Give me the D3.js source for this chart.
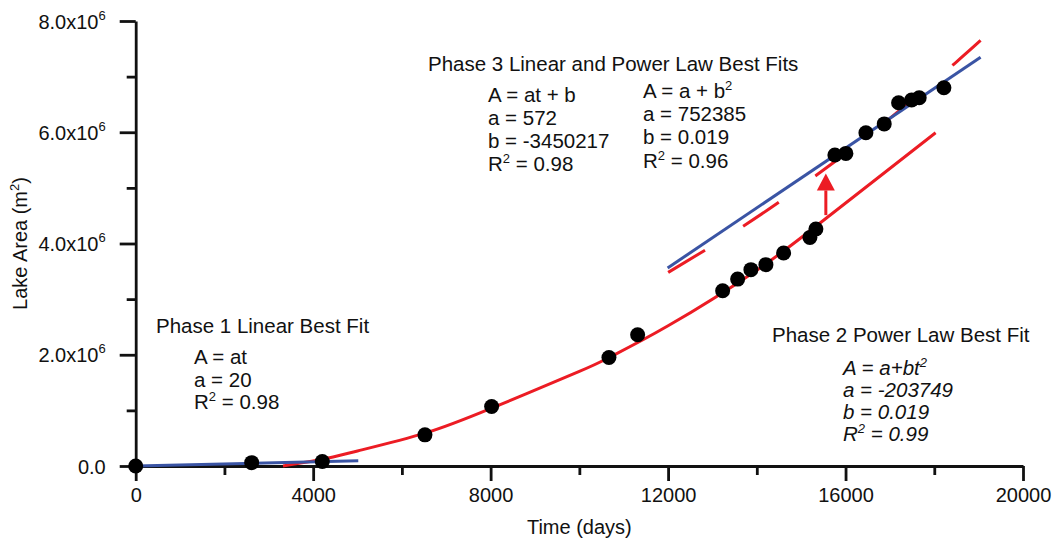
<!DOCTYPE html>
<html>
<head>
<meta charset="utf-8">
<script src="https://cdn.jsdelivr.net/npm/d3@7"></script>
<style>
  body { margin: 0; background: #fff; }
  text { font-family: "Liberation Sans", Arial, sans-serif; fill: #111; }
</style>
</head>
<body>
<svg></svg>
<script>
// observed lake area (days since start, m^2)
const obsDays = [0, 2614, 4206, 6520, 8023, 10667, 11314, 13230, 13568, 13867, 14205, 14604,
  15197, 15332, 15760, 16008, 16459, 16872, 17196, 17489, 17660, 18217];
const obsArea = [0, 0.06e6, 0.08e6, 0.56e6, 1.07e6, 1.95e6, 2.36e6, 3.15e6, 3.36e6, 3.53e6, 3.62e6, 3.83e6,
  4.11e6, 4.26e6, 5.59e6, 5.62e6, 5.99e6, 6.15e6, 6.53e6, 6.58e6, 6.62e6, 6.80e6];

// fit lines
const phase1Days = [0, 5017];
const phase1Area = [0, 0.095e6];
const phase2Days = [3320, 4206, 5000, 6520, 8023, 10000, 10667, 12000, 14000, 15556, 18030];
const phase2Area = [0, 0.12e6, 0.27e6, 0.59e6, 1.04e6, 1.70e6, 1.95e6, 2.52e6, 3.52e6, 4.45e6, 5.99e6];
const phase3LinDays = [11990, 19044];
const phase3LinArea = [3.56e6, 7.35e6];
const phase3PowDays = [12003, 13710, 15348, 17000, 18465, 19044];
const phase3PowArea = [3.48e6, 4.32e6, 5.23e6, 6.25e6, 7.24e6, 7.65e6];

// shift arrow
const arrowDay = 15556;
const arrowFrom = 4.51e6;
const arrowTo = 5.26e6;

const xTicks = [0, 4000, 8000, 12000, 16000, 20000];
const xMinor = [2000, 6000, 10000, 14000, 18000];
const yTicks = [0, 2e6, 4e6, 6e6, 8e6];
const yMinor = [1e6, 3e6, 5e6, 7e6];
const yTickLabels = ["0.0", "2.0x10", "4.0x10", "6.0x10", "8.0x10"];

const width = 1055, height = 544;
const red = "#ec1c24", blue = "#3a54a4";
const fs = 20.5;

const svg = d3.select("svg").attr("width", width).attr("height", height);

const x = d3.scaleLinear().domain([0, 20000]).range([135.7, 1023]);
const y = d3.scaleLinear().domain([0, 8e6]).range([466, 21]);

const zip = (a, b) => a.map((d, i) => [d, b[i]]);
const line = d3.line().x(d => x(d[0])).y(d => y(d[1]));
const smooth = d3.line().x(d => x(d[0])).y(d => y(d[1])).curve(d3.curveNatural);

// minor ticks first
svg.append("g")
  .attr("transform", `translate(0,${y(0)})`)
  .call(d3.axisBottom(x).tickValues(xMinor).tickSize(9).tickSizeOuter(0).tickFormat(""))
  .call(g => g.select(".domain").remove());
svg.append("g")
  .attr("transform", `translate(${x(0)},0)`)
  .call(d3.axisLeft(y).tickValues(yMinor).tickSize(9).tickSizeOuter(0).tickFormat(""))
  .call(g => g.select(".domain").remove());

const xAxis = svg.append("g")
  .attr("transform", `translate(0,${y(0)})`)
  .call(d3.axisBottom(x).tickValues(xTicks).tickSize(15).tickSizeOuter(0).tickPadding(7).tickFormat(d3.format("d")));
const yAxis = svg.append("g")
  .attr("transform", `translate(${x(0)},0)`)
  .call(d3.axisLeft(y).tickValues(yTicks).tickSize(16).tickSizeOuter(0).tickPadding(14).tickFormat(""));

svg.selectAll(".tick line, .domain").attr("stroke", "#111").attr("stroke-width", 2.8);
xAxis.selectAll("text").attr("font-size", 20);

yAxis.selectAll(".tick text").each(function(d, i) {
  const t = d3.select(this).attr("font-size", 20).attr("dy", "0.35em");
  t.append("tspan").text(yTickLabels[i]);
  if (d !== 0) t.append("tspan").attr("font-size", 13).attr("dy", -9).text("6");
});

svg.append("text")
  .attr("transform", `translate(27,${(y(0) + y(8e6)) / 2}) rotate(-90)`)
  .attr("text-anchor", "middle").attr("font-size", 20)
  .text("Lake Area (m")
  .call(t => t.append("tspan").attr("font-size", 13).attr("dy", -8).text("2"))
  .call(t => t.append("tspan").attr("dy", 8).text(")"));

svg.append("text")
  .attr("x", (x(0) + x(20000)) / 2).attr("y", 534)
  .attr("text-anchor", "middle").attr("font-size", 20)
  .text("Time (days)");

// fits
svg.append("path").datum(zip(phase3PowDays, phase3PowArea))
  .attr("d", smooth).attr("fill", "none").attr("stroke", red).attr("stroke-width", 3)
  .attr("stroke-dasharray", "43 45");
svg.append("path").datum(zip(phase3LinDays, phase3LinArea))
  .attr("d", line).attr("fill", "none").attr("stroke", blue).attr("stroke-width", 3);
svg.append("path").datum(zip(phase2Days, phase2Area))
  .attr("d", smooth).attr("fill", "none").attr("stroke", red).attr("stroke-width", 3);
svg.append("path").datum(zip(phase1Days, phase1Area))
  .attr("d", line).attr("fill", "none").attr("stroke", blue).attr("stroke-width", 3);

// arrow
const ax = x(arrowDay), headBase = y(arrowTo) + 17;
svg.append("line")
  .attr("x1", ax).attr("x2", ax).attr("y1", y(arrowFrom)).attr("y2", headBase)
  .attr("stroke", red).attr("stroke-width", 3);
svg.append("path")
  .attr("d", `M${ax - 9},${headBase}L${ax + 9},${headBase}L${ax},${y(arrowTo)}Z`)
  .attr("fill", red);

// points
svg.append("g").selectAll("circle")
  .data(zip(obsDays, obsArea))
  .join("circle")
  .attr("cx", d => x(d[0])).attr("cy", d => y(d[1]))
  .attr("r", 7.5).attr("fill", "#000");

// annotations
function block(x0, y0, step, lines, italic) {
  const g = svg.append("g");
  lines.forEach((l, i) => {
    const t = g.append("text").attr("x", x0).attr("y", y0 + i * step).attr("font-size", fs);
    if (italic) t.attr("font-style", "italic");
    t.append("tspan").text(l[0]);
    if (l[1]) {
      t.append("tspan").attr("font-size", 13).attr("dy", -8).text(l[1]);
      if (l[2]) t.append("tspan").attr("dy", 8).text(l[2]);
    }
  });
}

block(428, 70.7, 0, [["Phase 3 Linear and Power Law Best Fits"]]);
block(488, 101.7, 23, [["A = at + b"], ["a = 572"], ["b = -3450217"], ["R", "2", " = 0.98"]]);
block(643, 98, 23.2, [["A = a + b", "2"], ["a = 752385"], ["b = 0.019"], ["R", "2", " = 0.96"]]);
block(156, 332.7, 0, [["Phase 1 Linear Best Fit"]]);
block(194, 364, 22.7, [["A = at"], ["a = 20"], ["R", "2", " = 0.98"]]);
block(772, 341.7, 0, [["Phase 2 Power Law Best Fit"]]);
block(843, 375, 21.9, [["A = a+bt", "2"], ["a = -203749"], ["b = 0.019"], ["R", "2", " = 0.99"]], true);
</script>
</body>
</html>
